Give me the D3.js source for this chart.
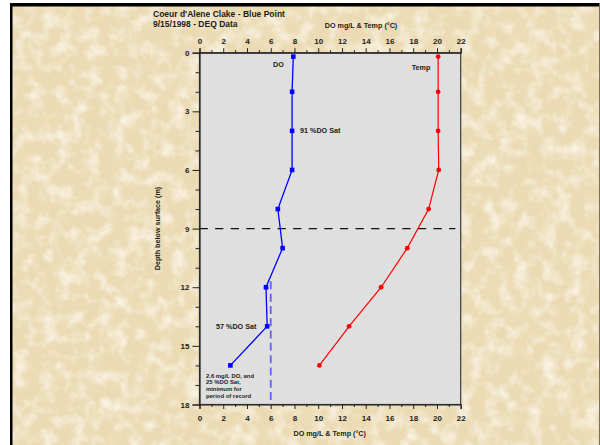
<!DOCTYPE html>
<html>
<head>
<meta charset="utf-8">
<script src="https://cdn.jsdelivr.net/npm/d3@7"></script>
<style>
html,body{margin:0;padding:0;background:#fff;}
svg{display:block;}
text{font-family:"Liberation Sans",Arial,sans-serif;font-weight:bold;fill:#1c1c1c;}
</style>
</head>
<body>
<svg id="chart" width="600" height="445"></svg>
<script>
// ---- data ----
const doDepths   = [0.2, 2, 4, 6, 8, 10, 12, 14, 16];
const doValues   = [7.9, 7.8, 7.8, 7.8, 6.6, 7.0, 5.6, 5.7, 2.6];
const tempDepths = [0.2, 2, 4, 6, 8, 10, 12, 14, 16];
const tempValues = [20.1, 20.1, 20.1, 20.15, 19.3, 17.5, 15.3, 12.6, 10.1];
const xTicks = [0, 2, 4, 6, 8, 10, 12, 14, 16, 18, 20, 22];
const yTicks = [0, 3, 6, 9, 12, 15, 18];
const thermoclineDepth = 9;
const doCriterion = 6;
const doCriterionTop = 11.7;
const titleLines = ["Coeur d'Alene Clake - Blue Point", "9/15/1998 - DEQ Data"];
const xTitle = "DO mg/L & Temp (\u00B0C)";
const yTitle = "Depth below surface (m)";
const noteLines = ["2.6 mg/L DO, and", "25 %DO Sat,", "minimum for", "period of record"];

const svg = d3.select("#chart");

// ---- background parchment ----
const defs = svg.append("defs");
const f = defs.append("filter").attr("id","paper").attr("x",0).attr("y",0).attr("width","100%").attr("height","100%");
f.append("feTurbulence").attr("type","fractalNoise").attr("baseFrequency","0.028").attr("numOctaves",4).attr("seed",7).attr("result","n");
f.append("feColorMatrix").attr("in","n").attr("type","matrix")
 .attr("values","0 0 0 0 0.84  0 0 0 0 0.72  0 0 0 0 0.48  2.4 0 0 0 -1.0");
const f2 = defs.append("filter").attr("id","paper2").attr("x",0).attr("y",0).attr("width","100%").attr("height","100%");
f2.append("feTurbulence").attr("type","fractalNoise").attr("baseFrequency","0.07").attr("numOctaves",3).attr("seed",3).attr("result","n");
f2.append("feColorMatrix").attr("in","n").attr("type","matrix")
 .attr("values","0 0 0 0 0.97  0 0 0 0 0.93  0 0 0 0 0.84  2.0 0 0 0 -0.85");

svg.append("rect").attr("x",10).attr("y",3).attr("width",590).attr("height",442).attr("fill","#EBDAB2");
svg.append("rect").attr("x",10).attr("y",3).attr("width",590).attr("height",442).attr("filter","url(#paper)");
svg.append("rect").attr("x",10).attr("y",3).attr("width",590).attr("height",442).attr("filter","url(#paper2)");
// frame edges
svg.append("rect").attr("x",10).attr("y",3).attr("width",590).attr("height",3.5).attr("fill","#000");
svg.append("rect").attr("x",10).attr("y",3).attr("width",2.5).attr("height",442).attr("fill","#000");
svg.append("rect").attr("x",599).attr("y",3).attr("width",1).attr("height",442).attr("fill","#7a6e58");

// ---- scales ----
const x = d3.scaleLinear().domain([0,22]).range([199.5,460.7]);
const y = d3.scaleLinear().domain([0,18]).range([52.7,404.5]);

// plot area
svg.append("rect").attr("x",x(0)).attr("y",y(0)).attr("width",x(22)-x(0)).attr("height",y(18)-y(0))
  .attr("fill","#DFDFDF").attr("stroke","#3a3a3a").attr("stroke-width",1.2);

// ---- axes ----
const minorX = d3.range(1,22,2);
const minorY = d3.range(0,19,1).filter(d=>d%3!==0);

function xAxis(gen, ypos, minorLen){
  const g = svg.append("g").attr("transform",`translate(0,${ypos})`)
    .call(gen(x).tickValues(xTicks).tickSize(4.5).tickPadding(3).tickFormat(d3.format("d")));
  g.select(".domain").attr("stroke","#222").attr("stroke-width",1.2);
  g.selectAll(".tick line").attr("stroke","#222").attr("stroke-width",1);
  g.selectAll("text").attr("font-size","8px").attr("font-family","Liberation Sans, Arial, sans-serif").attr("font-weight","bold").attr("fill","#1c1c1c");
  const g2 = svg.append("g").attr("transform",`translate(0,${ypos})`)
    .call(gen(x).tickValues(minorX).tickSize(minorLen).tickFormat(""));
  g2.select(".domain").remove();
  g2.selectAll(".tick line").attr("stroke","#222").attr("stroke-width",1);
  return g;
}
const gTop = xAxis(d3.axisTop, y(0), 2.5);
gTop.selectAll("text").attr("dy","0").attr("y",-9);
const gBot = xAxis(d3.axisBottom, y(18), 2.5);
gBot.selectAll("text").attr("dy","0").attr("y",16.5);

const gL = svg.append("g").attr("transform",`translate(${x(0)},0)`)
  .call(d3.axisLeft(y).tickValues(yTicks).tickSize(7).tickPadding(3).tickFormat(d3.format("d")));
gL.select(".domain").attr("stroke","#222").attr("stroke-width",1.2);
gL.selectAll(".tick line").attr("stroke","#222").attr("stroke-width",1);
gL.selectAll("text").attr("font-size","8px").attr("font-family","Liberation Sans, Arial, sans-serif").attr("font-weight","bold").attr("fill","#1c1c1c");
const gL2 = svg.append("g").attr("transform",`translate(${x(0)},0)`)
  .call(d3.axisLeft(y).tickValues(minorY).tickSize(4).tickFormat(""));
gL2.select(".domain").remove();
gL2.selectAll(".tick line").attr("stroke","#222").attr("stroke-width",1);

// ---- reference lines ----
svg.append("line").attr("x1",x(0)).attr("x2",x(21.55)).attr("y1",y(thermoclineDepth)).attr("y2",y(thermoclineDepth))
  .attr("stroke","#111").attr("stroke-width",1.3).attr("stroke-dasharray","8.3,7.3");
svg.append("line").attr("x1",x(doCriterion)).attr("x2",x(doCriterion)).attr("y1",y(doCriterionTop)).attr("y2",y(18))
  .attr("stroke","#6464F0").attr("stroke-width",1.8).attr("stroke-dasharray","8,4.3");

// ---- series ----
const doData = doDepths.map((d,i)=>({d, v:doValues[i]}));
const tData = tempDepths.map((d,i)=>({d, v:tempValues[i]}));
const line = d3.line().x(p=>x(p.v)).y(p=>y(p.d));

svg.append("path").datum(doData).attr("d",line).attr("fill","none").attr("stroke","#0000FF").attr("stroke-width",1.3);
svg.selectAll(".dosq").data(doData).enter().append("rect")
  .attr("x",p=>x(p.v)-2.3).attr("y",p=>y(p.d)-2.3).attr("width",4.6).attr("height",4.6).attr("fill","#0000FF");

svg.append("path").datum(tData).attr("d",line).attr("fill","none").attr("stroke","#FF0000").attr("stroke-width",1.2);
svg.selectAll(".tc").data(tData).enter().append("circle")
  .attr("cx",p=>x(p.v)).attr("cy",p=>y(p.d)).attr("r",2.4).attr("fill","#FF0000");

// ---- text ----
svg.append("text").attr("x",153).attr("y",17).attr("font-size","8.5px").text(titleLines[0]);
svg.append("text").attr("x",153).attr("y",26.5).attr("font-size","8.5px").text(titleLines[1]);
svg.append("text").attr("x",361).attr("y",28).attr("text-anchor","middle").attr("font-size","7.2px").text(xTitle);
svg.append("text").attr("x",329.7).attr("y",435.5).attr("text-anchor","middle").attr("font-size","7.2px").text(xTitle);
svg.append("text").attr("transform","translate(159.5,228.5) rotate(-90)").attr("text-anchor","middle").attr("font-size","7.2px").text(yTitle);

svg.append("text").attr("x",273).attr("y",67).attr("font-size","7.2px").text("DO");
svg.append("text").attr("x",411.7).attr("y",69.5).attr("font-size","7.2px").text("Temp");
svg.append("text").attr("x",300).attr("y",133).attr("font-size","7.2px").text("91 %DO Sat");
svg.append("text").attr("x",216).attr("y",328.5).attr("font-size","7.2px").text("57 %DO Sat");
noteLines.forEach((t,i)=>{
  svg.append("text").attr("x",206).attr("y",377.7+i*6.6).attr("font-size","5.9px").text(t);
});
</script>
</body>
</html>
